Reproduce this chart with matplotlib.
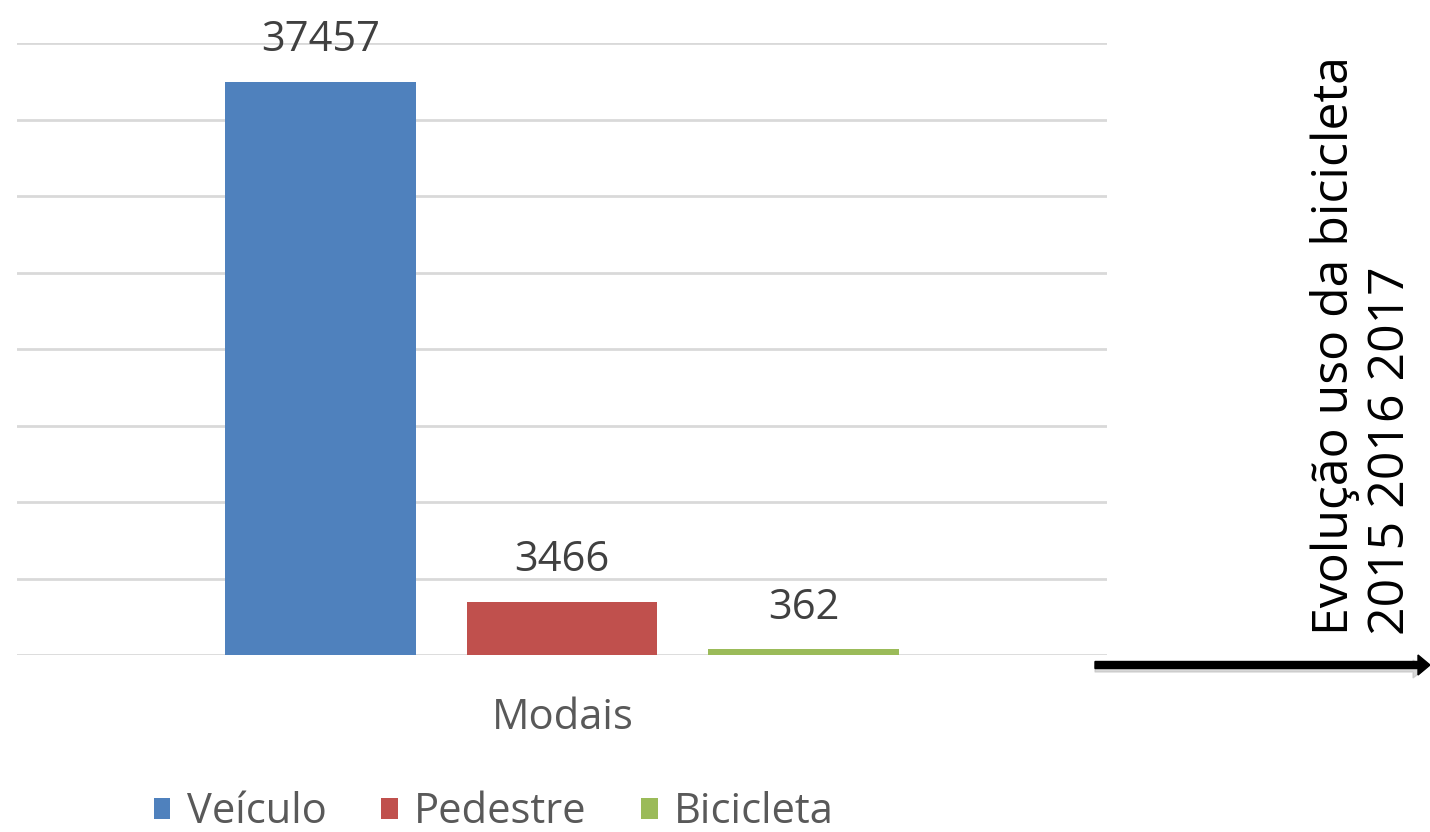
import matplotlib.pyplot as plt
from matplotlib.patches import Patch, FancyArrow

# Datos del gráfico
categorias = ['Veículo', 'Pedestre', 'Bicicleta']
valores = [37457, 3466, 362]
colores = ['#4F81BD', '#C0504D', '#9BBB59']
grupo = 'Modais'
texto_lateral = 'Evolução uso da bicicleta\n2015 2016 2017'

plt.rcParams['font.family'] = ['Open Sans', 'DejaVu Sans']

fig = plt.figure(figsize=(14.3, 8.32), dpi=100)
ax = fig.add_axes([17 / 1430, 1 - 655 / 832, (1107 - 17) / 1430, (655 - 43) / 832])

posiciones = [-1, 0, 1]
barras = ax.bar(posiciones, valores, width=0.79, color=colores, zorder=3)
ax.bar_label(barras, labels=[str(v) for v in valores], padding=15,
             fontsize=30, color='#404040', zorder=4)

ax.set_xlim(-2.255, 2.255)
ax.set_ylim(0, 40000)
ax.set_yticks(range(0, 40001, 5000))
ax.yaxis.grid(True, color='#D9D9D9', linewidth=2, zorder=0)
ax.set_xticks([])
ax.set_yticklabels([])
ax.tick_params(axis='y', length=0)
for s in ax.spines.values():
    s.set_visible(False)

fig.text(563 / 1430, 1 - 718 / 832, grupo, ha='center', va='center',
         fontsize=30, color='#595959')

# Leyenda
handles = [Patch(facecolor=c) for c in colores]
fig.legend(handles, categorias, loc='center', bbox_to_anchor=(494 / 1430, 1 - 812 / 832),
           ncol=3, frameon=False, fontsize=30, labelcolor='#595959',
           handlelength=0.4, handleheight=0.4, handletextpad=0.4, columnspacing=1.3)

# Flecha y texto lateral
fig.patches.append(FancyArrow(
    1095 / 1430, 1 - 669 / 832, 330 / 1430, 0, width=6 / 832, head_width=18 / 832,
    head_length=12 / 1430, length_includes_head=True, color='#BFBFBF', alpha=0.6,
    transform=fig.transFigure))
fig.patches.append(FancyArrow(
    1095 / 1430, 1 - 665 / 832, 335 / 1430, 0, width=7 / 832, head_width=20 / 832,
    head_length=12 / 1430, length_includes_head=True, color='black',
    transform=fig.transFigure))

fig.text(1363 / 1430, 1 - 635 / 832, texto_lateral, rotation=90, ha='center', va='bottom',
         multialignment='left', fontsize=36, color='black', linespacing=1.2)

fig.savefig('out.png', dpi=100)
